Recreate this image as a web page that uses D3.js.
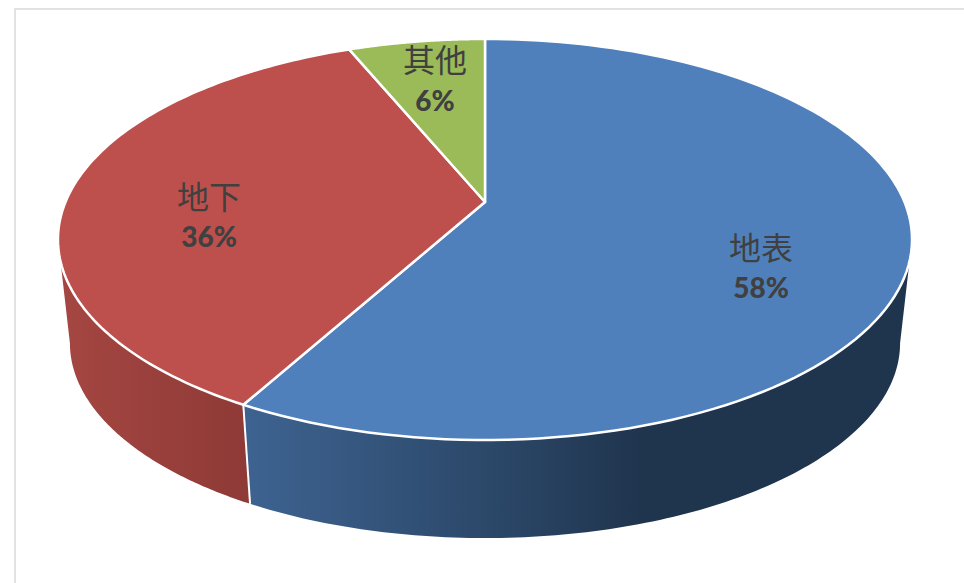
<!DOCTYPE html>
<html>
<head>
	<meta charset="utf-8">
	<script type="text/javascript" src="https://d3js.org/d3.v7.min.js"></script>
	<style>
		html, body { margin: 0; padding: 0; background: #fff; }
		svg { display: block; }
	</style>
</head>
<body>
	<script type="text/javascript">

		// data
		var categories = ['地表', '地下', '其他'];
		var values = [58, 35.8, 6.2];

		var topColors = ['#4f80bc', '#bd4f4c', '#9bbb59'];
		var labelX = [761, 209, 435];
		var nameY = [246, 195, 58];
		var percentY = [287, 236, 100];

		var width = 964, height = 583;

		var svg = d3.select('body')
			.append('svg')
			.attr('width', width)
			.attr('height', height);

		// frame of the chart area, runs off the right and bottom edge
		svg.append('rect')
			.attr('x', 15)
			.attr('y', 9)
			.attr('width', width + 20)
			.attr('height', height + 20)
			.attr('fill', '#fff')
			.attr('stroke', '#d9d9d9')
			.attr('stroke-width', 1.5);

		// perspective of the disc: hub is not at the middle of the ellipse
		var cx = 485, hubY = 202, lowerHubY = 306.7;
		var rimX = 419.5, rimY = 193.5, tilt = 0.187;
		var lowerScale = 0.972;

		function project(a, hub, scale) {
			var u = Math.sin(a), v = -Math.cos(a);
			var w = 1 - tilt * v;
			return [cx + scale * rimX * u / w, hub + scale * rimY * v / w];
		}

		var line = d3.line();

		function rim(a0, a1, hub, scale) {
			var n = 120;
			return d3.range(n + 1).map(function(i) {
				return project(a0 + (a1 - a0) * i / n, hub, scale);
			});
		}

		var slices = d3.pie().sort(null)(values);

		// side wall gradients
		var defs = svg.append('defs');

		function wallGradient(id, x1, x2, stops) {
			var g = defs.append('linearGradient')
				.attr('id', id)
				.attr('gradientUnits', 'userSpaceOnUse')
				.attr('x1', x1).attr('x2', x2)
				.attr('y1', 0).attr('y2', 0);
			stops.forEach(function(s) {
				g.append('stop').attr('offset', s[0]).attr('stop-color', s[1]);
			});
		}

		wallGradient('wall0', 244, 912, [[0, '#3e6391'], [0.38, '#2b4768'], [0.6, '#1f344d'], [1, '#1f344d']]);
		wallGradient('wall1', 60, 250, [[0, '#a54642'], [1, '#8e3a36']]);

		// the wall is visible from the widest point of the rim to the front
		var widest = Math.acos(-tilt);
		var wallRange = [
			[widest, slices[0].endAngle],
			[slices[1].startAngle, 2 * Math.PI - widest]
		];

		wallRange.forEach(function(r, i) {
			var pts = rim(r[0], r[1], hubY, 1)
				.concat(rim(r[1], r[0], lowerHubY, lowerScale));
			svg.append('path')
				.attr('d', line(pts) + 'Z')
				.attr('fill', 'url(#wall' + i + ')');
		});

		// white seam between the two walls
		svg.append('path')
			.attr('d', line([
				project(slices[0].endAngle, hubY, 1),
				project(slices[0].endAngle, lowerHubY, lowerScale)
			]))
			.attr('stroke', '#fff')
			.attr('stroke-width', 2)
			.attr('fill', 'none');

		// top face
		svg.selectAll('path.slice')
			.data(slices)
			.enter()
			.append('path')
			.attr('class', 'slice')
			.attr('d', function(d) {
				return line([[cx, hubY]].concat(rim(d.startAngle, d.endAngle, hubY, 1))) + 'Z';
			})
			.attr('fill', function(d, i) { return topColors[i]; })
			.attr('stroke', '#fff')
			.attr('stroke-width', 2.5)
			.attr('stroke-linejoin', 'round');

		// data labels
		var percent = d3.format('.0%');
		var total = d3.sum(values);

		svg.selectAll('text.name')
			.data(categories)
			.enter()
			.append('text')
			.attr('class', 'name')
			.attr('x', function(d, i) { return labelX[i]; })
			.attr('y', function(d, i) { return nameY[i]; })
			.attr('text-anchor', 'middle')
			.attr('dominant-baseline', 'central')
			.attr('font-family', '"Noto Sans CJK SC", sans-serif')
			.attr('font-size', 32)
			.attr('fill', '#404040')
			.text(function(d) { return d; });

		svg.selectAll('text.percent')
			.data(values)
			.enter()
			.append('text')
			.attr('class', 'percent')
			.attr('x', function(d, i) { return labelX[i]; })
			.attr('y', function(d, i) { return percentY[i]; })
			.attr('text-anchor', 'middle')
			.attr('dominant-baseline', 'central')
			.attr('font-family', 'Lato, sans-serif')
			.attr('font-weight', 900)
			.attr('font-size', 28)
			.attr('fill', '#404040')
			.text(function(d) { return percent(d / total); });

	</script>
</body>
</html>
